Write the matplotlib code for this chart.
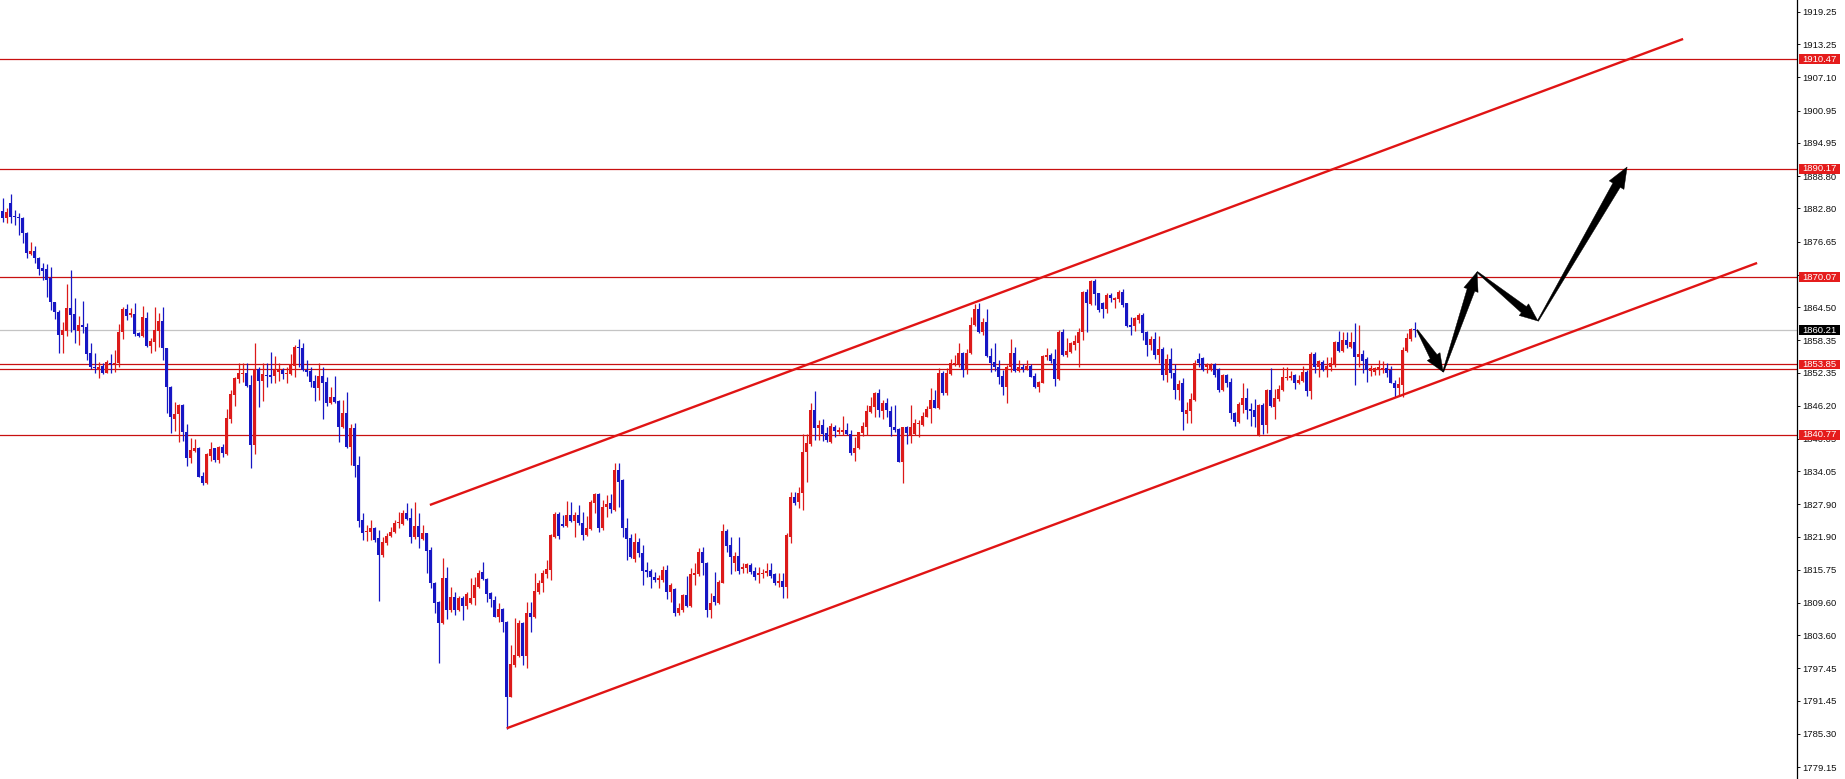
import numpy as np
import matplotlib
matplotlib.use("Agg")
import matplotlib.pyplot as plt
from matplotlib.patches import Polygon, Rectangle
from matplotlib.transforms import blended_transform_factory, IdentityTransform

# ---------------- data ----------------
opens = [
 1882.33,1880.97,1883.75,1881.46,1881.28,1881.09,1878.31,1874.35,1874.91,1873.55,
 1871.69,1871.51,1869.84,1865.51,1863.65,1859.32,1860.13,1864.27,1863.16,1860.13,
 1861.18,1860.87,1855.92,1853.45,1852.83,1853.57,1852.34,1854.19,1853.94,1854.07,
 1859.94,1864.09,1863.04,1863.22,1859.63,1859.14,1862.54,1857.28,1858.09,1860.13,
 1861.98,1856.85,1849.74,1843.74,1844.61,1846.34,1841.27,1836.44,1837.86,1838.42,
 1833.16,1831.80,1836.87,1838.29,1836.13,1838.60,1837.24,1843.67,1848.19,1851.09,
 1852.02,1852.21,1850.04,1838.91,1852.95,1850.78,1851.90,1851.90,1851.71,1852.51,
 1852.82,1852.02,1852.08,1853.57,1857.15,1856.97,1852.82,1852.70,1850.78,1849.55,
 1851.71,1850.66,1846.76,1847.75,1847.07,1842.19,1844.78,1838.60,1842.00,1835.14,
 1825.00,1822.71,1822.71,1823.45,1821.60,1818.50,1820.79,1822.03,1822.83,1824.38,
 1824.26,1826.36,1825.31,1821.78,1823.88,1821.47,1822.52,1819.43,1813.37,1809.85,
 1805.83,1814.30,1808.30,1810.77,1808.30,1810.47,1809.11,1809.66,1810.47,1812.63,
 1815.35,1813.99,1811.39,1810.16,1807.06,1808.43,1806.14,1792.22,1798.10,1799.77,
 1805.95,1799.77,1807.68,1807.06,1811.70,1813.25,1814.98,1815.72,1821.91,1826.11,
 1824.26,1823.88,1825.93,1824.81,1825.93,1824.50,1822.22,1823.27,1828.09,1829.82,
 1823.45,1827.34,1828.09,1826.85,1834.27,1832.42,1823.45,1821.59,1817.70,1820.98,
 1818.81,1815.72,1815.59,1814.48,1813.86,1813.86,1815.72,1811.58,1812.13,1807.68,
 1808.30,1811.08,1809.04,1814.79,1814.98,1819.12,1816.96,1808.30,1810.90,1809.54,
 1813.37,1823.02,1820.36,1816.96,1818.32,1815.84,1816.15,1816.65,1815.59,1814.79,
 1814.91,1815.10,1815.72,1814.98,1813.25,1813.68,1812.63,1821.90,1829.32,1828.40,
 1830.07,1837.67,1839.03,1845.40,1842.00,1842.62,1841.07,1839.53,1842.31,1841.38,
 1841.38,1841.69,1840.95,1837.36,1838.29,1841.07,1842.31,1845.09,1846.02,1848.49,
 1845.22,1846.76,1845.22,1842.31,1841.88,1835.82,1842.19,1840.76,1840.95,1842.74,
 1842.62,1844.17,1845.53,1847.26,1845.71,1852.33,1848.49,1852.08,1853.94,1853.94,
 1856.04,1852.82,1855.92,1861.17,1864.08,1859.93,1861.79,1855.42,1854.37,1853.44,
 1851.71,1849.73,1853.32,1855.91,1852.70,1853.44,1852.95,1853.56,1851.71,1849.61,
 1850.47,1855.17,1855.61,1854.80,1851.09,1859.93,1855.61,1856.22,1857.46,1857.77,
 1859.93,1867.36,1865.07,1869.40,1867.05,1865.31,1864.08,1866.74,1865.81,1865.93,
 1867.36,1865.19,1861.17,1860.99,1862.10,1863.03,1859.93,1857.46,1858.51,1855.61,
 1856.66,1851.90,1854.80,1852.33,1849.11,1850.35,1844.66,1845.28,1847.26,1854.80,
 1854.99,1853.32,1852.83,1853.88,1852.95,1849.11,1851.90,1850.54,1844.79,1843.24,
 1846.33,1847.57,1845.53,1845.40,1840.77,1846.33,1842.62,1849.11,1846.02,1847.38,
 1849.11,1851.28,1851.34,1851.90,1850.35,1850.85,1852.52,1848.99,1855.79,1853.44,
 1854.37,1852.83,1853.44,1853.75,1858.08,1856.41,1858.39,1857.15,1858.08,1855.30,
 1855.79,1854.80,1852.70,1852.52,1852.83,1852.83,1853.13,1852.83,1850.48,1849.42,
 1850.04,1856.41,1858.51,1860.45]

highs = [
 1884.68,1882.82,1885.48,1882.51,1881.90,1881.28,1878.49,1876.64,1875.90,1873.73,
 1872.62,1872.50,1871.88,1865.51,1863.96,1861.80,1868.72,1871.38,1866.13,1862.85,
 1865.63,1861.61,1857.78,1855.92,1854.38,1854.07,1854.69,1855.80,1856.54,1861.30,
 1864.46,1865.08,1864.27,1865.20,1859.94,1864.70,1863.65,1858.71,1864.46,1863.34,
 1864.58,1856.97,1849.86,1846.96,1846.52,1846.52,1842.81,1840.15,1839.97,1838.61,
 1833.96,1837.36,1839.53,1838.42,1838.72,1839.10,1845.53,1849.11,1851.59,1854.18,
 1854.06,1854.06,1851.90,1857.90,1853.44,1854.18,1854.18,1856.10,1855.42,1854.06,
 1853.13,1853.44,1855.79,1857.46,1858.58,1857.90,1854.68,1853.44,1851.90,1854.06,
 1853.44,1851.59,1849.73,1851.71,1847.26,1847.26,1848.80,1842.81,1842.93,1836.87,
 1826.23,1824.07,1825.00,1823.64,1823.14,1821.90,1822.52,1823.76,1825.00,1826.54,
 1826.85,1828.21,1827.16,1828.40,1826.36,1824.07,1822.65,1819.93,1813.56,1809.97,
 1817.89,1816.22,1812.63,1811.70,1810.90,1810.90,1811.70,1814.30,1814.49,1815.72,
 1817.14,1814.18,1811.70,1810.90,1809.54,1808.61,1806.32,1801.81,1806.75,1806.45,
 1806.14,1809.85,1809.85,1815.23,1813.87,1815.72,1817.58,1822.34,1826.54,1826.54,
 1825.93,1828.59,1828.40,1826.54,1827.78,1826.54,1825.74,1828.71,1829.95,1829.95,
 1828.71,1829.63,1829.82,1835.63,1835.63,1832.54,1825.31,1822.34,1822.65,1821.59,
 1820.36,1817.26,1815.84,1815.41,1814.79,1816.46,1816.65,1813.37,1812.32,1809.54,
 1811.27,1814.61,1816.03,1816.96,1819.74,1820.05,1817.26,1811.39,1815.41,1813.86,
 1824.25,1823.26,1821.78,1819.12,1821.78,1816.96,1817.08,1816.96,1816.34,1816.34,
 1815.84,1817.08,1816.96,1815.22,1815.10,1815.22,1822.52,1830.25,1830.25,1831.18,
 1840.95,1840.95,1846.64,1848.99,1843.55,1843.67,1842.31,1842.93,1842.62,1842.31,
 1844.29,1842.93,1841.69,1840.45,1841.38,1843.24,1846.33,1847.88,1848.80,1849.24,
 1847.26,1847.57,1846.14,1846.33,1842.00,1842.31,1842.43,1846.33,1843.67,1843.55,
 1845.09,1846.14,1849.42,1849.11,1853.26,1852.70,1853.26,1854.80,1855.61,1857.89,
 1856.22,1856.66,1862.72,1865.07,1865.31,1862.41,1864.08,1856.84,1857.89,1854.68,
 1852.82,1853.75,1858.51,1857.03,1854.68,1853.94,1854.68,1853.94,1852.20,1850.84,
 1855.61,1856.84,1856.04,1856.66,1860.24,1860.37,1858.70,1858.08,1859.32,1860.55,
 1867.54,1867.79,1869.52,1869.64,1867.17,1865.50,1867.05,1867.05,1866.43,1867.66,
 1867.79,1865.31,1862.72,1862.72,1863.34,1863.34,1860.06,1859.13,1859.93,1859.13,
 1857.03,1855.79,1856.84,1853.94,1850.97,1851.28,1846.95,1848.62,1854.68,1855.91,
 1855.17,1854.06,1854.06,1854.06,1853.13,1852.09,1852.09,1851.28,1845.09,1846.95,
 1850.35,1849.42,1846.64,1847.38,1846.52,1846.64,1849.24,1853.13,1849.24,1850.04,
 1853.44,1853.44,1852.70,1852.09,1851.90,1853.57,1852.83,1856.23,1856.23,1854.68,
 1854.68,1855.30,1855.17,1858.27,1860.12,1859.94,1859.94,1859.94,1861.61,1861.17,
 1856.54,1855.30,1853.75,1853.44,1854.68,1854.56,1854.06,1853.57,1850.97,1851.59,
 1857.15,1859.63,1860.56,1861.79]

lows = [
 1880.35,1880.16,1880.04,1879.73,1877.88,1876.33,1873.55,1874.17,1872.62,1870.46,
 1869.53,1866.31,1863.96,1862.23,1855.92,1856.05,1859.14,1859.94,1857.78,1857.47,
 1859.63,1854.69,1852.95,1852.21,1851.29,1852.09,1852.21,1852.21,1852.52,1853.45,
 1858.52,1862.11,1862.60,1859.14,1858.89,1859.01,1857.16,1855.92,1856.42,1857.16,
 1854.69,1844.92,1841.08,1841.58,1839.41,1839.72,1835.02,1835.52,1837.68,1832.92,
 1831.49,1831.67,1836.00,1835.82,1835.51,1836.74,1837.06,1842.93,1846.15,1850.35,
 1850.66,1849.73,1834.58,1837.24,1845.90,1847.07,1849.73,1850.47,1850.35,1850.85,
 1851.09,1850.47,1851.90,1851.46,1853.44,1852.70,1851.71,1849.73,1847.13,1847.26,
 1843.67,1846.15,1846.52,1846.76,1839.53,1842.00,1838.29,1835.20,1832.91,1823.64,
 1821.29,1821.16,1821.29,1820.98,1810.03,1818.19,1820.36,1821.90,1822.52,1823.45,
 1824.07,1824.99,1820.67,1821.41,1819.74,1821.29,1815.10,1812.32,1807.81,1798.41,
 1805.70,1806.57,1807.99,1807.37,1808.18,1806.45,1808.43,1809.42,1809.23,1812.45,
 1813.87,1809.72,1808.92,1806.94,1806.14,1804.28,1786.16,1792.10,1797.79,1799.64,
 1798.10,1797.48,1804.28,1806.75,1811.27,1811.70,1814.18,1813.87,1821.60,1821.41,
 1823.76,1823.76,1824.69,1821.78,1824.07,1821.29,1822.03,1823.14,1826.24,1822.83,
 1823.14,1825.61,1826.23,1826.73,1827.34,1821.90,1817.57,1817.88,1817.26,1818.07,
 1812.94,1814.36,1812.32,1813.56,1812.32,1813.56,1810.34,1809.84,1807.19,1807.37,
 1807.99,1808.92,1808.79,1812.94,1814.61,1814.79,1807.06,1806.75,1809.23,1809.41,
 1813.25,1819.12,1814.98,1815.59,1814.98,1815.10,1815.22,1814.98,1813.86,1813.37,
 1814.17,1814.61,1814.17,1812.94,1812.50,1810.46,1810.46,1820.67,1827.78,1827.16,
 1826.85,1831.98,1838.79,1839.84,1839.84,1839.71,1839.53,1839.34,1840.45,1840.95,
 1840.76,1840.76,1837.05,1836.00,1838.11,1840.58,1840.76,1844.78,1844.04,1844.04,
 1843.67,1844.17,1840.58,1841.38,1835.82,1831.92,1839.10,1839.22,1840.76,1840.45,
 1842.43,1844.04,1842.93,1845.71,1845.53,1848.19,1848.19,1851.90,1853.57,1853.44,
 1851.59,1852.08,1855.79,1860.99,1859.63,1859.32,1855.17,1852.51,1852.70,1850.23,
 1848.18,1846.64,1852.51,1852.51,1852.51,1852.51,1852.82,1851.46,1849.42,1848.80,
 1850.35,1854.68,1854.06,1849.85,1850.97,1855.42,1855.30,1856.04,1856.53,1853.44,
 1858.39,1859.93,1864.88,1864.88,1863.65,1862.41,1863.46,1865.50,1864.26,1865.50,
 1864.57,1860.74,1859.32,1860.12,1861.48,1858.39,1855.42,1856.53,1854.80,1854.18,
 1850.97,1850.66,1851.28,1847.38,1847.26,1841.69,1843.05,1842.93,1847.13,1853.44,
 1852.70,1852.33,1852.70,1851.59,1848.81,1848.99,1849.61,1843.67,1842.44,1843.06,
 1844.79,1843.67,1842.44,1842.31,1840.58,1840.95,1841.08,1846.02,1843.67,1847.14,
 1848.99,1850.97,1850.97,1849.24,1850.23,1850.66,1848.00,1847.38,1852.21,1851.59,
 1852.70,1851.59,1852.70,1853.44,1856.23,1856.23,1856.84,1856.84,1850.04,1853.44,
 1852.33,1850.66,1851.71,1851.90,1851.90,1852.33,1851.59,1850.35,1847.75,1848.00,
 1847.88,1856.23,1858.27,1859.01]

closes = [
 1880.97,1882.21,1881.28,1881.15,1880.97,1878.19,1874.47,1874.91,1873.55,1871.51,
 1871.26,1869.53,1865.51,1863.53,1859.32,1860.25,1864.27,1863.04,1860.25,1861.18,
 1860.75,1855.80,1853.33,1853.14,1853.45,1852.34,1854.32,1853.88,1854.19,1859.94,
 1864.15,1862.85,1863.34,1859.51,1859.14,1862.60,1857.28,1858.27,1860.25,1861.98,
 1856.85,1849.61,1844.05,1844.61,1846.34,1841.27,1836.44,1837.99,1838.30,1833.04,
 1831.80,1837.18,1838.11,1836.13,1838.60,1837.36,1843.86,1848.37,1851.28,1852.21,
 1852.33,1849.86,1838.91,1852.95,1850.78,1852.08,1851.71,1851.59,1852.82,1852.82,
 1852.02,1852.33,1853.88,1857.15,1856.84,1852.82,1852.51,1850.66,1849.55,1851.71,
 1850.47,1846.76,1847.88,1846.95,1842.19,1844.78,1838.48,1842.00,1835.01,1824.87,
 1822.52,1823.02,1823.45,1821.29,1818.50,1820.98,1822.03,1822.83,1824.50,1824.69,
 1826.36,1825.18,1821.91,1823.88,1821.78,1822.52,1819.31,1813.37,1809.66,1805.83,
 1814.30,1808.30,1810.77,1808.30,1810.59,1809.11,1811.27,1810.59,1812.94,1815.23,
 1813.99,1811.27,1810.28,1807.06,1808.49,1806.14,1792.22,1798.28,1799.95,1805.95,
 1799.77,1807.81,1807.06,1811.89,1813.37,1815.10,1815.91,1822.22,1826.11,1822.03,
 1823.88,1825.93,1824.81,1825.93,1824.38,1822.22,1823.45,1828.40,1829.82,1823.45,
 1827.34,1827.96,1826.97,1834.27,1832.11,1823.45,1821.41,1818.19,1820.98,1818.81,
 1815.59,1815.41,1814.48,1813.86,1814.30,1815.72,1811.58,1812.94,1807.68,1808.61,
 1811.08,1809.04,1814.98,1815.22,1819.12,1816.96,1808.30,1809.54,1809.84,1813.56,
 1823.02,1820.17,1818.19,1818.32,1815.59,1816.34,1816.77,1815.41,1814.48,1815.22,
 1815.22,1815.59,1814.61,1813.25,1813.68,1812.50,1822.21,1829.32,1828.09,1830.07,
 1837.67,1839.22,1845.40,1842.00,1842.62,1840.95,1839.84,1842.43,1841.57,1841.69,
 1841.69,1840.95,1837.36,1838.29,1841.26,1842.50,1845.28,1846.14,1848.49,1845.40,
 1846.76,1845.40,1842.19,1841.69,1835.82,1842.19,1841.07,1842.19,1842.93,1843.05,
 1844.29,1845.53,1847.26,1845.84,1852.33,1848.49,1852.20,1854.06,1854.18,1856.04,
 1852.82,1856.04,1861.17,1864.08,1859.93,1861.79,1855.42,1854.18,1853.32,1851.59,
 1849.73,1853.44,1855.91,1852.70,1853.32,1852.95,1853.56,1851.59,1849.61,1850.66,
 1855.42,1855.61,1854.55,1851.09,1859.93,1855.61,1856.41,1857.77,1858.26,1859.93,
 1867.36,1865.19,1869.40,1866.92,1863.95,1864.08,1866.74,1866.12,1866.12,1867.36,
 1864.88,1860.99,1860.86,1862.41,1863.03,1859.75,1857.46,1858.51,1855.61,1856.66,
 1851.90,1854.80,1852.33,1849.11,1850.23,1845.09,1845.40,1847.38,1854.18,1854.18,
 1852.83,1853.75,1853.75,1851.90,1849.11,1851.90,1850.35,1844.79,1843.24,1846.52,
 1847.57,1845.40,1845.22,1844.17,1846.33,1842.62,1849.11,1846.15,1847.57,1849.24,
 1851.59,1851.59,1851.71,1850.35,1850.97,1852.52,1848.99,1855.79,1853.32,1854.50,
 1852.83,1853.57,1854.06,1858.08,1856.41,1858.39,1857.46,1858.08,1855.30,1855.79,
 1854.56,1852.83,1853.13,1853.13,1853.32,1853.20,1852.33,1850.48,1849.42,1850.23,
 1856.54,1858.70,1860.37,1860.21]

level_prices = [1910.47, 1890.17, 1870.07, 1853.85, 1853.10, 1840.77]
label_prices = [1910.47, 1890.17, 1870.07, 1853.85, 1840.77]
label_texts = ["1910.47", "1890.17", "1870.07", "1853.85", "1840.77"]
current_price = 1860.21
current_text = "1860.21"

tick_values = [1919.25, 1913.25, 1907.10, 1900.95, 1894.95, 1888.80, 1882.80, 1876.65,
               1870.50, 1864.50, 1858.35, 1852.35, 1846.20, 1840.05, 1834.05, 1827.90,
               1821.90, 1815.75, 1809.60, 1803.60, 1797.45, 1791.45, 1785.30, 1779.15]
tick_labels = ["%.2f" % v for v in tick_values]

upper_x = [106.8, 420.1]
upper_y = [1827.78, 1914.24]
lower_x = [126.0, 438.6]
lower_y = [1786.35, 1872.68]

arrow_x = [353.6, 360.1, 368.6, 383.8, 406.1]
arrow_y = [1860.25, 1852.46, 1871.01, 1861.92, 1890.49]

# ---------------- styles ----------------
BULL = "#dc1a1a"
BEAR = "#1616c4"
LEVEL = "#c81010"
TREND = "#e01414"
BOXRED = "#e51c1c"
FONT = "Liberation Sans"
FS = 6.8

n = len(opens)
assert len(highs) == n and len(lows) == n and len(closes) == n

o = np.array(opens); c = np.array(closes)
h = np.maximum(np.array(highs), np.maximum(o, c))
l = np.minimum(np.array(lows), np.minimum(o, c))
x = np.arange(n)
up = c >= o
cols = np.where(up, BULL, BEAR)

W, H = 1845, 779
fig = plt.figure(figsize=(W / 100, H / 100), dpi=100)
fig.patch.set_facecolor("white")
axw = 1797 / W
ax = fig.add_axes([0, 0, axw, 1])
ax.set_facecolor("white")
ax.set_xlim(-0.675, 448.575)
ax.set_ylim(1776.94, 1921.47)

# horizontal levels
for p in level_prices:
    ax.axhline(p, color=LEVEL, lw=0.9, zorder=1)
ax.axhline(current_price, color="#c4c4c4", lw=0.9, zorder=1)

# candles
ax.vlines(x, l, h, colors=cols, lw=0.9, zorder=2)
body_h = np.maximum(np.abs(c - o), 0.14)
ax.bar(x, body_h, bottom=np.minimum(o, c), width=0.8, color=cols, linewidth=0, zorder=3)

# channel lines
ax.plot(upper_x, upper_y, color=TREND, lw=1.7, zorder=4, solid_capstyle="butt")
ax.plot(lower_x, lower_y, color=TREND, lw=1.7, zorder=4, solid_capstyle="butt")

# axis styling
for s in ["left", "top", "bottom"]:
    ax.spines[s].set_visible(False)
ax.spines["right"].set_color("black")
ax.spines["right"].set_linewidth(0.9)
ax.set_xticks([])
ax.yaxis.tick_right()
ax.set_yticks(tick_values)
ax.set_yticklabels(tick_labels, fontfamily=FONT, fontsize=FS, color="#111111")
ax.tick_params(axis="y", direction="out", length=2.3, width=0.7, pad=1.6, colors="#111111")

# price label boxes on the axis
bt = blended_transform_factory(ax.transAxes, ax.transData)
box_x0 = 1799 / 1797
box_w = 41 / 1797
box_h = 9.6 / 5.39
for p, t in zip(label_prices, label_texts):
    ax.add_patch(Rectangle((box_x0, p - box_h / 2), box_w, box_h, transform=bt,
                           facecolor=BOXRED, edgecolor="none", clip_on=False, zorder=6))
    ax.text(box_x0 + box_w / 2, p, t, transform=bt, ha="center", va="center",
            color="white", fontsize=FS, fontfamily=FONT, clip_on=False, zorder=7)
ax.add_patch(Rectangle((box_x0, current_price - box_h / 2), box_w, box_h, transform=bt,
                       facecolor="black", edgecolor="none", clip_on=False, zorder=6))
ax.text(box_x0 + box_w / 2, current_price, current_text, transform=bt, ha="center",
        va="center", color="white", fontsize=FS, fontfamily=FONT, clip_on=False, zorder=7)

# tapered arrows (drawn in pixel space from data endpoints)
fig.canvas.draw()
pts = ax.transData.transform(np.column_stack([arrow_x, arrow_y]))
specs = [(1.2, 8.0, 15, 18), (1.2, 8.0, 15, 19), (1.2, 8.0, 15, 18), (1.2, 8.5, 17, 21)]
for k in range(len(pts) - 1):
    p0 = pts[k]; p1 = pts[k + 1]
    w0, w1, hw, hl = specs[k]
    d = p1 - p0
    L = np.hypot(*d)
    d = d / L
    nrm = np.array([-d[1], d[0]])
    base = p1 - d * hl
    poly = [p0 + nrm * w0 / 2, base + nrm * w1 / 2, base + nrm * hw / 2, p1,
            base - nrm * hw / 2, base - nrm * w1 / 2, p0 - nrm * w0 / 2]
    ax.add_patch(Polygon(poly, closed=True, transform=IdentityTransform(),
                         facecolor="black", edgecolor="black", lw=0.3, zorder=8,
                         clip_on=False))

fig.savefig("out.png", dpi=100, facecolor="white")
